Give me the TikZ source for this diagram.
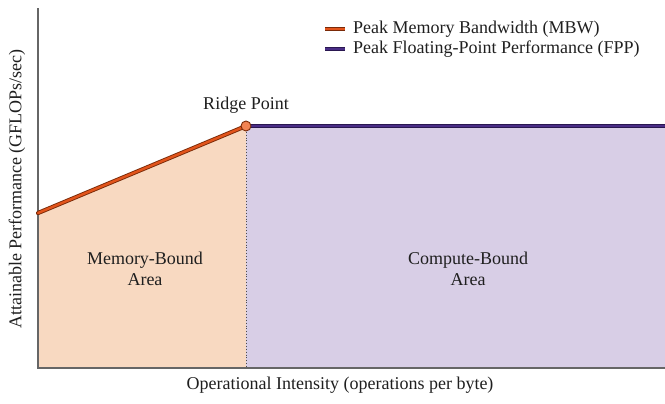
\documentclass[tikz,border=0pt]{standalone}
\usepackage{fontspec}
\setmainfont{Liberation Serif}
\definecolor{memfill}{HTML}{F8D9C1}
\definecolor{cmpfill}{HTML}{D8CEE6}
\definecolor{memline}{HTML}{E2541B}
\definecolor{memedge}{HTML}{7A2A08}
\definecolor{cmpline}{HTML}{4A2D86}
\definecolor{cmpedge}{HTML}{2A1750}
\definecolor{ridge}{HTML}{F28352}
\definecolor{axisgray}{HTML}{666666}
\tikzset{
  lbl/.style={font=\fontsize{18bp}{21bp}\selectfont, text=black!88, inner sep=0pt},
  memstroke/.style={draw=memedge, line width=4.2bp, postaction={draw=memline, line width=2.4bp}},
  cmpstroke/.style={draw=cmpedge, line width=4.2bp, postaction={draw=cmpline, line width=2.4bp}},
}
\begin{document}
\begin{tikzpicture}[x=1bp, y=-1bp]
  \useasboundingbox (0,0) rectangle (665,403);
  % key points
  \coordinate (o) at (38,368);
  \coordinate (ytop) at (38,8);
  \coordinate (xend) at (665,368);
  \coordinate (mstart) at (38,213);
  \coordinate (rp) at (246,126);
  \coordinate (rbase) at (246,368);
  \coordinate (fend) at (665,126);
  % shaded regions
  \fill[memfill] (o) -- (mstart) -- (rp) -- (rbase) -- cycle;
  \fill[cmpfill] (rp) -- (fend) -- (xend) -- (rbase) -- cycle;
  % ridge separator
  \draw[black!70, line width=0.9bp, dotted] (rp) -- (rbase);
  % axes
  \draw[axisgray, line width=1.5bp] (ytop) -- (o) -- (xend);
  % roofline segments
  \draw[cmpstroke] (rp) -- (fend);
  \draw[memstroke, line cap=round] (mstart) -- (rp);
  \node[circle, draw=memedge, fill=ridge, line width=0.9bp, minimum size=10bp, inner sep=0pt] (ridgept) at (rp) {};
  \node[lbl] (ridgelbl) at (246,105) {Ridge Point};
  % area labels
  \node[lbl, align=center] (memarea) at (145,269) {Memory-Bound\\Area};
  \node[lbl, align=center] (cmparea) at (468,269) {Compute-Bound\\Area};
  % axis titles
  \node[lbl] (xlbl) at (340,385) {Operational Intensity (operations per byte)};
  \node[lbl, rotate=90] (ylbl) at (17,189) {Attainable Performance (GFLOPs/sec)};
  % legend
  \coordinate (l1a) at (325,29); \coordinate (l1b) at (345,29);
  \coordinate (l2a) at (325,49); \coordinate (l2b) at (345,49);
  \draw[memstroke] (l1a) -- (l1b);
  \draw[cmpstroke] (l2a) -- (l2b);
  \node[lbl, anchor=west] (leg1) at (353,29) {Peak Memory Bandwidth (MBW)};
  \node[lbl, anchor=west] (leg2) at (353,49) {Peak Floating-Point Performance (FPP)};
\end{tikzpicture}
\end{document}
